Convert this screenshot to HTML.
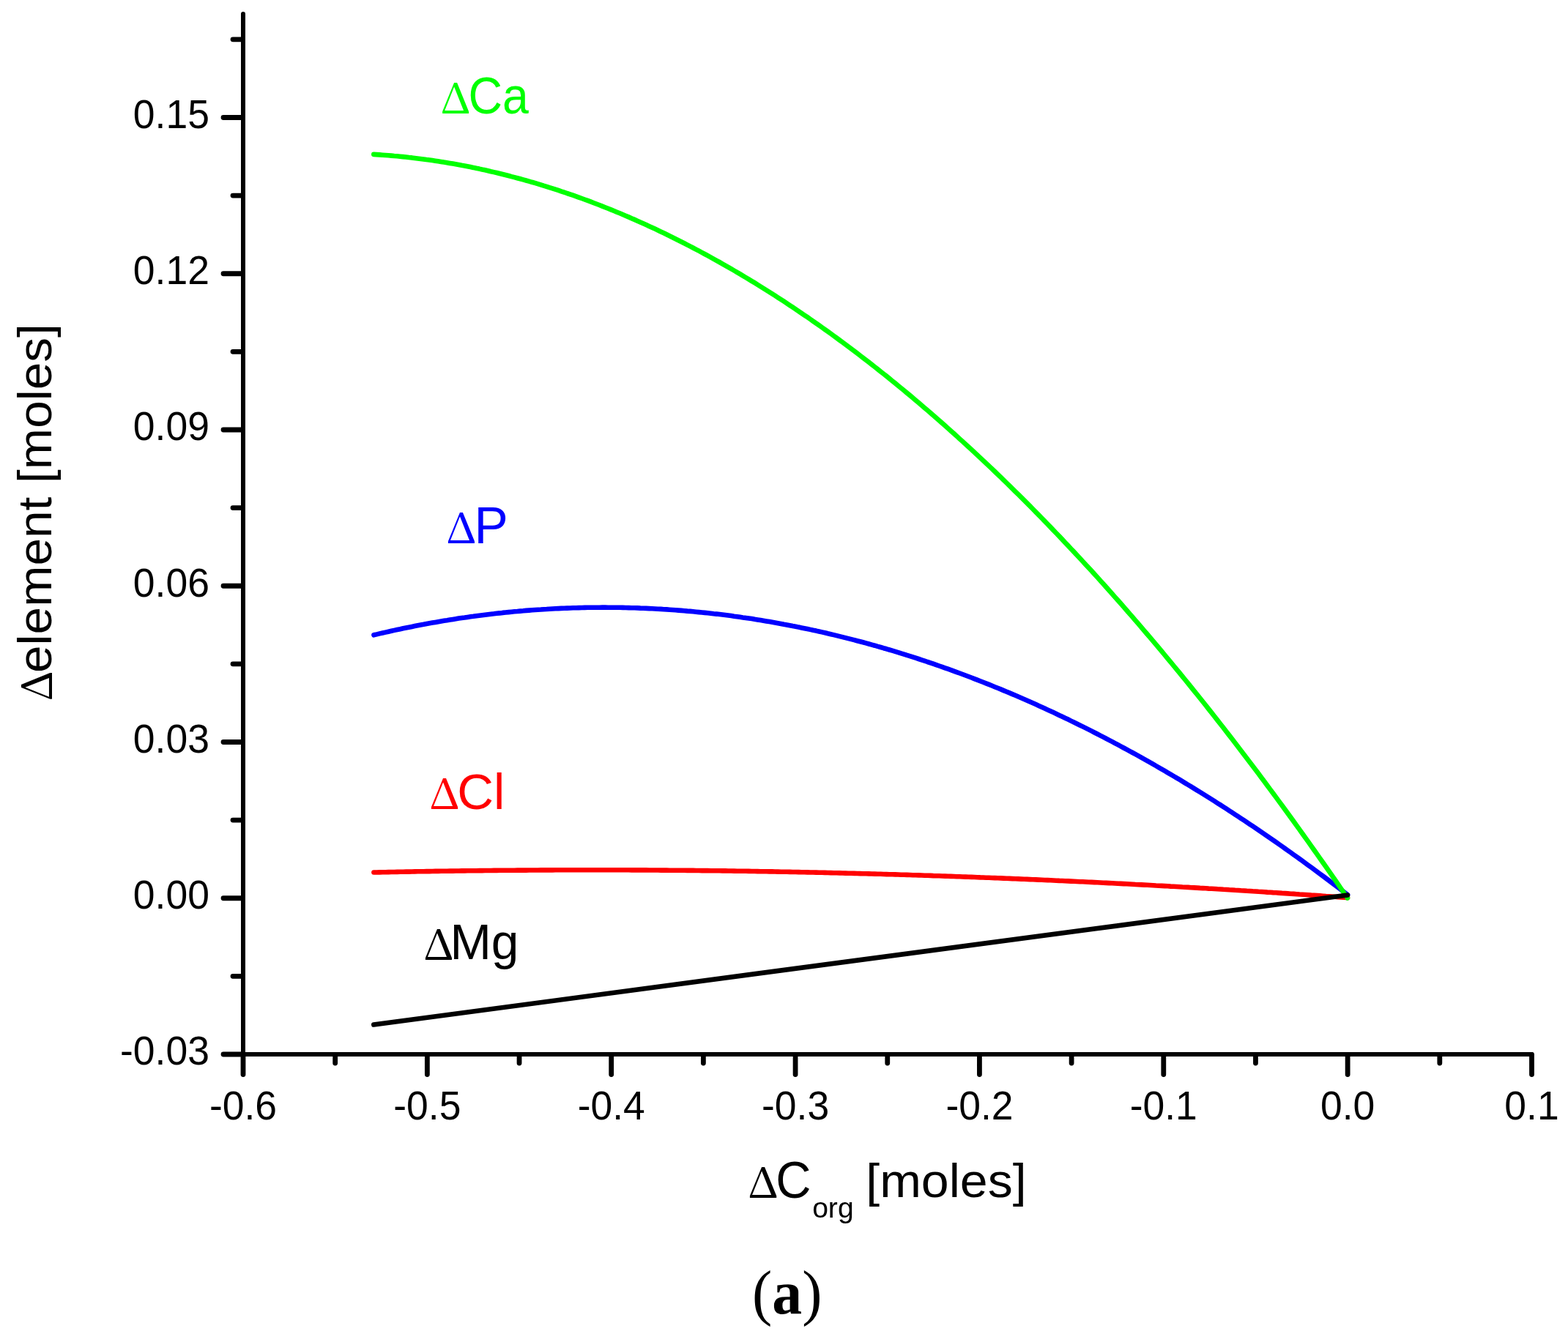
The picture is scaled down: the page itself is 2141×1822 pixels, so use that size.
<!DOCTYPE html>
<html><head><meta charset="utf-8"><title>Delta element vs Delta C_org</title>
<style>html,body{margin:0;padding:0;background:#fff;overflow:hidden}svg{display:block}</style>
</head><body>
<svg width="2141" height="1822" viewBox="0 0 2141 1822">
<rect width="2141" height="1822" fill="#fff"/>
<g fill="none" stroke-width="6.6" stroke-linecap="round" stroke-linejoin="round">
<path stroke="#ff0000" d="M510.4,1191.5 L514.4,1191.5 L518.4,1191.4 L522.4,1191.3 L526.4,1191.2 L530.4,1191.1 L534.4,1191.0 L538.4,1191.0 L542.4,1190.9 L546.4,1190.8 L550.4,1190.7 L554.4,1190.6 L558.4,1190.6 L562.4,1190.5 L566.4,1190.4 L570.4,1190.3 L574.4,1190.3 L578.4,1190.2 L582.4,1190.1 L586.4,1190.1 L590.4,1190.0 L594.4,1189.9 L598.4,1189.9 L602.4,1189.8 L606.4,1189.8 L610.4,1189.7 L614.4,1189.6 L618.4,1189.6 L622.4,1189.5 L626.4,1189.5 L630.4,1189.4 L634.4,1189.4 L638.4,1189.3 L642.4,1189.3 L646.4,1189.2 L650.4,1189.2 L654.4,1189.1 L658.4,1189.1 L662.4,1189.0 L666.4,1189.0 L670.4,1189.0 L674.4,1188.9 L678.4,1188.9 L682.4,1188.8 L686.4,1188.8 L690.4,1188.8 L694.4,1188.7 L698.4,1188.7 L702.4,1188.7 L706.4,1188.6 L710.4,1188.6 L714.4,1188.6 L718.4,1188.6 L722.4,1188.5 L726.4,1188.5 L730.4,1188.5 L734.4,1188.5 L738.4,1188.4 L742.4,1188.4 L746.4,1188.4 L750.4,1188.4 L754.4,1188.4 L758.4,1188.3 L762.4,1188.3 L766.4,1188.3 L770.4,1188.3 L774.4,1188.3 L778.4,1188.3 L782.4,1188.3 L786.4,1188.3 L790.4,1188.3 L794.4,1188.3 L798.4,1188.3 L802.4,1188.2 L806.4,1188.2 L810.4,1188.2 L814.4,1188.2 L818.4,1188.3 L822.4,1188.3 L826.4,1188.3 L830.4,1188.3 L834.4,1188.3 L838.4,1188.3 L842.4,1188.3 L846.4,1188.3 L850.4,1188.3 L854.4,1188.3 L858.4,1188.3 L862.4,1188.4 L866.4,1188.4 L870.4,1188.4 L874.4,1188.4 L878.4,1188.4 L882.4,1188.4 L886.4,1188.5 L890.4,1188.5 L894.4,1188.5 L898.4,1188.5 L902.4,1188.6 L906.4,1188.6 L910.4,1188.6 L914.4,1188.7 L918.4,1188.7 L922.4,1188.7 L926.4,1188.7 L930.4,1188.8 L934.4,1188.8 L938.4,1188.9 L942.4,1188.9 L946.4,1188.9 L950.4,1189.0 L954.4,1189.0 L958.4,1189.1 L962.4,1189.1 L966.4,1189.1 L970.4,1189.2 L974.4,1189.2 L978.4,1189.3 L982.4,1189.3 L986.4,1189.4 L990.4,1189.4 L994.4,1189.5 L998.4,1189.5 L1002.4,1189.6 L1006.4,1189.7 L1010.4,1189.7 L1014.4,1189.8 L1018.4,1189.8 L1022.4,1189.9 L1026.4,1190.0 L1030.4,1190.0 L1034.4,1190.1 L1038.4,1190.2 L1042.4,1190.2 L1046.4,1190.3 L1050.4,1190.4 L1054.4,1190.4 L1058.4,1190.5 L1062.4,1190.6 L1066.4,1190.7 L1070.4,1190.7 L1074.4,1190.8 L1078.4,1190.9 L1082.4,1191.0 L1086.4,1191.0 L1090.4,1191.1 L1094.4,1191.2 L1098.4,1191.3 L1102.4,1191.4 L1106.4,1191.5 L1110.4,1191.5 L1114.4,1191.6 L1118.4,1191.7 L1122.4,1191.8 L1126.4,1191.9 L1130.4,1192.0 L1134.4,1192.1 L1138.4,1192.2 L1142.4,1192.3 L1146.4,1192.4 L1150.4,1192.5 L1154.4,1192.6 L1158.4,1192.7 L1162.4,1192.8 L1166.4,1192.9 L1170.4,1193.0 L1174.4,1193.1 L1178.4,1193.2 L1182.4,1193.3 L1186.4,1193.4 L1190.4,1193.5 L1194.4,1193.6 L1198.4,1193.7 L1202.4,1193.8 L1206.4,1194.0 L1210.4,1194.1 L1214.4,1194.2 L1218.4,1194.3 L1222.4,1194.4 L1226.4,1194.5 L1230.4,1194.7 L1234.4,1194.8 L1238.4,1194.9 L1242.4,1195.0 L1246.4,1195.2 L1250.4,1195.3 L1254.4,1195.4 L1258.4,1195.5 L1262.4,1195.7 L1266.4,1195.8 L1270.4,1195.9 L1274.4,1196.1 L1278.4,1196.2 L1282.4,1196.3 L1286.4,1196.5 L1290.4,1196.6 L1294.4,1196.8 L1298.4,1196.9 L1302.4,1197.0 L1306.4,1197.2 L1310.4,1197.3 L1314.4,1197.5 L1318.4,1197.6 L1322.4,1197.8 L1326.4,1197.9 L1330.4,1198.0 L1334.4,1198.2 L1338.4,1198.4 L1342.4,1198.5 L1346.4,1198.7 L1350.4,1198.8 L1354.4,1199.0 L1358.4,1199.1 L1362.4,1199.3 L1366.4,1199.4 L1370.4,1199.6 L1374.4,1199.8 L1378.4,1199.9 L1382.4,1200.1 L1386.4,1200.3 L1390.4,1200.4 L1394.4,1200.6 L1398.4,1200.8 L1402.4,1200.9 L1406.4,1201.1 L1410.4,1201.3 L1414.4,1201.4 L1418.4,1201.6 L1422.4,1201.8 L1426.4,1202.0 L1430.4,1202.1 L1434.4,1202.3 L1438.4,1202.5 L1442.4,1202.7 L1446.4,1202.9 L1450.4,1203.0 L1454.4,1203.2 L1458.4,1203.4 L1462.4,1203.6 L1466.4,1203.8 L1470.4,1204.0 L1474.4,1204.2 L1478.4,1204.3 L1482.4,1204.5 L1486.4,1204.7 L1490.4,1204.9 L1494.4,1205.1 L1498.4,1205.3 L1502.4,1205.5 L1506.4,1205.7 L1510.4,1205.9 L1514.4,1206.1 L1518.4,1206.3 L1522.4,1206.5 L1526.4,1206.7 L1530.4,1206.9 L1534.4,1207.1 L1538.4,1207.3 L1542.4,1207.5 L1546.4,1207.7 L1550.4,1208.0 L1554.4,1208.2 L1558.4,1208.4 L1562.4,1208.6 L1566.4,1208.8 L1570.4,1209.0 L1574.4,1209.2 L1578.4,1209.5 L1582.4,1209.7 L1586.4,1209.9 L1590.4,1210.1 L1594.4,1210.3 L1598.4,1210.6 L1602.4,1210.8 L1606.4,1211.0 L1610.4,1211.2 L1614.4,1211.5 L1618.4,1211.7 L1622.4,1211.9 L1626.4,1212.2 L1630.4,1212.4 L1634.4,1212.6 L1638.4,1212.9 L1642.4,1213.1 L1646.4,1213.3 L1650.4,1213.6 L1654.4,1213.8 L1658.4,1214.0 L1662.4,1214.3 L1666.4,1214.5 L1670.4,1214.8 L1674.4,1215.0 L1678.4,1215.3 L1682.4,1215.5 L1686.4,1215.8 L1690.4,1216.0 L1694.4,1216.3 L1698.4,1216.5 L1702.4,1216.8 L1706.4,1217.0 L1710.4,1217.3 L1714.4,1217.5 L1718.4,1217.8 L1722.4,1218.0 L1726.4,1218.3 L1730.4,1218.6 L1734.4,1218.8 L1738.4,1219.1 L1742.4,1219.3 L1746.4,1219.6 L1750.4,1219.9 L1754.4,1220.1 L1758.4,1220.4 L1762.4,1220.7 L1766.4,1220.9 L1770.4,1221.2 L1774.4,1221.5 L1778.4,1221.7 L1782.4,1222.0 L1786.4,1222.3 L1790.4,1222.6 L1794.4,1222.8 L1798.4,1223.1 L1802.4,1223.4 L1806.4,1223.7 L1810.4,1224.0 L1814.4,1224.2 L1818.4,1224.5 L1822.4,1224.8 L1826.4,1225.1 L1830.4,1225.4 L1834.4,1225.7 L1838.4,1226.0 L1840.0,1226.1"/>
<path stroke="#0000ff" d="M510.4,867.3 L514.4,866.4 L518.4,865.4 L522.4,864.5 L526.4,863.6 L530.4,862.7 L534.4,861.8 L538.4,860.9 L542.4,860.0 L546.4,859.2 L550.4,858.3 L554.4,857.5 L558.4,856.7 L562.4,855.9 L566.4,855.1 L570.4,854.3 L574.4,853.5 L578.4,852.8 L582.4,852.0 L586.4,851.3 L590.4,850.6 L594.4,849.9 L598.4,849.2 L602.4,848.5 L606.4,847.8 L610.4,847.2 L614.4,846.5 L618.4,845.9 L622.4,845.3 L626.4,844.6 L630.4,844.0 L634.4,843.5 L638.4,842.9 L642.4,842.3 L646.4,841.8 L650.4,841.2 L654.4,840.7 L658.4,840.2 L662.4,839.7 L666.4,839.2 L670.4,838.7 L674.4,838.3 L678.4,837.8 L682.4,837.4 L686.4,836.9 L690.4,836.5 L694.4,836.1 L698.4,835.7 L702.4,835.3 L706.4,835.0 L710.4,834.6 L714.4,834.3 L718.4,833.9 L722.4,833.6 L726.4,833.3 L730.4,833.0 L734.4,832.7 L738.4,832.5 L742.4,832.2 L746.4,832.0 L750.4,831.7 L754.4,831.5 L758.4,831.3 L762.4,831.1 L766.4,830.9 L770.4,830.8 L774.4,830.6 L778.4,830.5 L782.4,830.3 L786.4,830.2 L790.4,830.1 L794.4,830.0 L798.4,829.9 L802.4,829.8 L806.4,829.8 L810.4,829.7 L814.4,829.7 L818.4,829.7 L822.4,829.6 L826.4,829.6 L830.4,829.7 L834.4,829.7 L838.4,829.7 L842.4,829.8 L846.4,829.8 L850.4,829.9 L854.4,830.0 L858.4,830.1 L862.4,830.2 L866.4,830.3 L870.4,830.4 L874.4,830.6 L878.4,830.7 L882.4,830.9 L886.4,831.1 L890.4,831.3 L894.4,831.5 L898.4,831.7 L902.4,831.9 L906.4,832.2 L910.4,832.4 L914.4,832.7 L918.4,833.0 L922.4,833.3 L926.4,833.6 L930.4,833.9 L934.4,834.2 L938.4,834.6 L942.4,834.9 L946.4,835.3 L950.4,835.7 L954.4,836.1 L958.4,836.5 L962.4,836.9 L966.4,837.3 L970.4,837.7 L974.4,838.2 L978.4,838.6 L982.4,839.1 L986.4,839.6 L990.4,840.1 L994.4,840.6 L998.4,841.1 L1002.4,841.7 L1006.4,842.2 L1010.4,842.8 L1014.4,843.4 L1018.4,843.9 L1022.4,844.5 L1026.4,845.1 L1030.4,845.8 L1034.4,846.4 L1038.4,847.0 L1042.4,847.7 L1046.4,848.4 L1050.4,849.1 L1054.4,849.8 L1058.4,850.5 L1062.4,851.2 L1066.4,851.9 L1070.4,852.7 L1074.4,853.4 L1078.4,854.2 L1082.4,855.0 L1086.4,855.7 L1090.4,856.6 L1094.4,857.4 L1098.4,858.2 L1102.4,859.0 L1106.4,859.9 L1110.4,860.8 L1114.4,861.6 L1118.4,862.5 L1122.4,863.4 L1126.4,864.3 L1130.4,865.3 L1134.4,866.2 L1138.4,867.1 L1142.4,868.1 L1146.4,869.1 L1150.4,870.1 L1154.4,871.1 L1158.4,872.1 L1162.4,873.1 L1166.4,874.1 L1170.4,875.2 L1174.4,876.2 L1178.4,877.3 L1182.4,878.4 L1186.4,879.5 L1190.4,880.6 L1194.4,881.7 L1198.4,882.9 L1202.4,884.0 L1206.4,885.2 L1210.4,886.3 L1214.4,887.5 L1218.4,888.7 L1222.4,889.9 L1226.4,891.1 L1230.4,892.4 L1234.4,893.6 L1238.4,894.9 L1242.4,896.1 L1246.4,897.4 L1250.4,898.7 L1254.4,900.0 L1258.4,901.3 L1262.4,902.6 L1266.4,904.0 L1270.4,905.3 L1274.4,906.7 L1278.4,908.1 L1282.4,909.5 L1286.4,910.9 L1290.4,912.3 L1294.4,913.7 L1298.4,915.1 L1302.4,916.6 L1306.4,918.1 L1310.4,919.5 L1314.4,921.0 L1318.4,922.5 L1322.4,924.0 L1326.4,925.5 L1330.4,927.1 L1334.4,928.6 L1338.4,930.2 L1342.4,931.8 L1346.4,933.3 L1350.4,934.9 L1354.4,936.5 L1358.4,938.2 L1362.4,939.8 L1366.4,941.4 L1370.4,943.1 L1374.4,944.8 L1378.4,946.4 L1382.4,948.1 L1386.4,949.8 L1390.4,951.6 L1394.4,953.3 L1398.4,955.0 L1402.4,956.8 L1406.4,958.6 L1410.4,960.3 L1414.4,962.1 L1418.4,963.9 L1422.4,965.7 L1426.4,967.6 L1430.4,969.4 L1434.4,971.3 L1438.4,973.1 L1442.4,975.0 L1446.4,976.9 L1450.4,978.8 L1454.4,980.7 L1458.4,982.6 L1462.4,984.6 L1466.4,986.5 L1470.4,988.5 L1474.4,990.4 L1478.4,992.4 L1482.4,994.4 L1486.4,996.4 L1490.4,998.4 L1494.4,1000.5 L1498.4,1002.5 L1502.4,1004.6 L1506.4,1006.7 L1510.4,1008.7 L1514.4,1010.8 L1518.4,1012.9 L1522.4,1015.1 L1526.4,1017.2 L1530.4,1019.3 L1534.4,1021.5 L1538.4,1023.7 L1542.4,1025.8 L1546.4,1028.0 L1550.4,1030.2 L1554.4,1032.4 L1558.4,1034.7 L1562.4,1036.9 L1566.4,1039.2 L1570.4,1041.4 L1574.4,1043.7 L1578.4,1046.0 L1582.4,1048.3 L1586.4,1050.6 L1590.4,1052.9 L1594.4,1055.3 L1598.4,1057.6 L1602.4,1060.0 L1606.4,1062.4 L1610.4,1064.7 L1614.4,1067.1 L1618.4,1069.6 L1622.4,1072.0 L1626.4,1074.4 L1630.4,1076.9 L1634.4,1079.3 L1638.4,1081.8 L1642.4,1084.3 L1646.4,1086.8 L1650.4,1089.3 L1654.4,1091.8 L1658.4,1094.3 L1662.4,1096.9 L1666.4,1099.4 L1670.4,1102.0 L1674.4,1104.6 L1678.4,1107.2 L1682.4,1109.8 L1686.4,1112.4 L1690.4,1115.0 L1694.4,1117.7 L1698.4,1120.3 L1702.4,1123.0 L1706.4,1125.7 L1710.4,1128.3 L1714.4,1131.0 L1718.4,1133.8 L1722.4,1136.5 L1726.4,1139.2 L1730.4,1142.0 L1734.4,1144.7 L1738.4,1147.5 L1742.4,1150.3 L1746.4,1153.1 L1750.4,1155.9 L1754.4,1158.7 L1758.4,1161.6 L1762.4,1164.4 L1766.4,1167.3 L1770.4,1170.2 L1774.4,1173.0 L1778.4,1175.9 L1782.4,1178.8 L1786.4,1181.8 L1790.4,1184.7 L1794.4,1187.6 L1798.4,1190.6 L1802.4,1193.6 L1806.4,1196.5 L1810.4,1199.5 L1814.4,1202.5 L1818.4,1205.6 L1822.4,1208.6 L1826.4,1211.6 L1830.4,1214.7 L1834.4,1217.8 L1838.4,1220.8 L1840.0,1222.1"/>
<path stroke="#00ff00" d="M510.3,210.9 L514.3,211.1 L518.3,211.4 L522.3,211.7 L526.3,212.0 L530.3,212.3 L534.3,212.6 L538.3,213.0 L542.3,213.3 L546.3,213.7 L550.3,214.1 L554.3,214.5 L558.3,215.0 L562.3,215.4 L566.3,215.9 L570.3,216.4 L574.3,216.9 L578.3,217.4 L582.3,218.0 L586.3,218.5 L590.3,219.1 L594.3,219.7 L598.3,220.3 L602.3,220.9 L606.3,221.6 L610.3,222.2 L614.3,222.9 L618.3,223.6 L622.3,224.3 L626.3,225.0 L630.3,225.8 L634.3,226.5 L638.3,227.3 L642.3,228.1 L646.3,228.9 L650.3,229.8 L654.3,230.6 L658.3,231.5 L662.3,232.3 L666.3,233.2 L670.3,234.2 L674.3,235.1 L678.3,236.0 L682.3,237.0 L686.3,238.0 L690.3,239.0 L694.3,240.0 L698.3,241.1 L702.3,242.1 L706.3,243.2 L710.3,244.3 L714.3,245.4 L718.3,246.5 L722.3,247.6 L726.3,248.8 L730.3,249.9 L734.3,251.1 L738.3,252.3 L742.3,253.6 L746.3,254.8 L750.3,256.1 L754.3,257.3 L758.3,258.6 L762.3,259.9 L766.3,261.3 L770.3,262.6 L774.3,264.0 L778.3,265.3 L782.3,266.7 L786.3,268.1 L790.3,269.6 L794.3,271.0 L798.3,272.5 L802.3,273.9 L806.3,275.4 L810.3,277.0 L814.3,278.5 L818.3,280.0 L822.3,281.6 L826.3,283.2 L830.3,284.8 L834.3,286.4 L838.3,288.0 L842.3,289.7 L846.3,291.3 L850.3,293.0 L854.3,294.7 L858.3,296.4 L862.3,298.2 L866.3,299.9 L870.3,301.7 L874.3,303.5 L878.3,305.3 L882.3,307.1 L886.3,308.9 L890.3,310.8 L894.3,312.6 L898.3,314.5 L902.3,316.4 L906.3,318.3 L910.3,320.3 L914.3,322.2 L918.3,324.2 L922.3,326.2 L926.3,328.2 L930.3,330.2 L934.3,332.2 L938.3,334.3 L942.3,336.4 L946.3,338.5 L950.3,340.6 L954.3,342.7 L958.3,344.8 L962.3,347.0 L966.3,349.2 L970.3,351.4 L974.3,353.6 L978.3,355.8 L982.3,358.0 L986.3,360.3 L990.3,362.6 L994.3,364.9 L998.3,367.2 L1002.3,369.5 L1006.3,371.8 L1010.3,374.2 L1014.3,376.6 L1018.3,379.0 L1022.3,381.4 L1026.3,383.8 L1030.3,386.2 L1034.3,388.7 L1038.3,391.2 L1042.3,393.7 L1046.3,396.2 L1050.3,398.7 L1054.3,401.3 L1058.3,403.8 L1062.3,406.4 L1066.3,409.0 L1070.3,411.6 L1074.3,414.2 L1078.3,416.9 L1082.3,419.6 L1086.3,422.2 L1090.3,424.9 L1094.3,427.7 L1098.3,430.4 L1102.3,433.1 L1106.3,435.9 L1110.3,438.7 L1114.3,441.5 L1118.3,444.3 L1122.3,447.1 L1126.3,450.0 L1130.3,452.8 L1134.3,455.7 L1138.3,458.6 L1142.3,461.5 L1146.3,464.5 L1150.3,467.4 L1154.3,470.4 L1158.3,473.4 L1162.3,476.4 L1166.3,479.4 L1170.3,482.4 L1174.3,485.5 L1178.3,488.6 L1182.3,491.6 L1186.3,494.7 L1190.3,497.9 L1194.3,501.0 L1198.3,504.2 L1202.3,507.3 L1206.3,510.5 L1210.3,513.7 L1214.3,516.9 L1218.3,520.2 L1222.3,523.4 L1226.3,526.7 L1230.3,530.0 L1234.3,533.3 L1238.3,536.6 L1242.3,539.9 L1246.3,543.3 L1250.3,546.7 L1254.3,550.1 L1258.3,553.5 L1262.3,556.9 L1266.3,560.3 L1270.3,563.8 L1274.3,567.3 L1278.3,570.7 L1282.3,574.2 L1286.3,577.8 L1290.3,581.3 L1294.3,584.9 L1298.3,588.4 L1302.3,592.0 L1306.3,595.6 L1310.3,599.3 L1314.3,602.9 L1318.3,606.6 L1322.3,610.2 L1326.3,613.9 L1330.3,617.6 L1334.3,621.4 L1338.3,625.1 L1342.3,628.8 L1346.3,632.6 L1350.3,636.4 L1354.3,640.2 L1358.3,644.0 L1362.3,647.9 L1366.3,651.7 L1370.3,655.6 L1374.3,659.5 L1378.3,663.4 L1382.3,667.3 L1386.3,671.3 L1390.3,675.2 L1394.3,679.2 L1398.3,683.2 L1402.3,687.2 L1406.3,691.2 L1410.3,695.3 L1414.3,699.3 L1418.3,703.4 L1422.3,707.5 L1426.3,711.6 L1430.3,715.7 L1434.3,719.9 L1438.3,724.1 L1442.3,728.2 L1446.3,732.4 L1450.3,736.6 L1454.3,740.9 L1458.3,745.1 L1462.3,749.4 L1466.3,753.6 L1470.3,757.9 L1474.3,762.2 L1478.3,766.6 L1482.3,770.9 L1486.3,775.3 L1490.3,779.6 L1494.3,784.0 L1498.3,788.4 L1502.3,792.9 L1506.3,797.3 L1510.3,801.8 L1514.3,806.3 L1518.3,810.7 L1522.3,815.3 L1526.3,819.8 L1530.3,824.3 L1534.3,828.9 L1538.3,833.5 L1542.3,838.1 L1546.3,842.7 L1550.3,847.3 L1554.3,851.9 L1558.3,856.6 L1562.3,861.3 L1566.3,866.0 L1570.3,870.7 L1574.3,875.4 L1578.3,880.1 L1582.3,884.9 L1586.3,889.7 L1590.3,894.5 L1594.3,899.3 L1598.3,904.1 L1602.3,909.0 L1606.3,913.8 L1610.3,918.7 L1614.3,923.6 L1618.3,928.5 L1622.3,933.4 L1626.3,938.4 L1630.3,943.3 L1634.3,948.3 L1638.3,953.3 L1642.3,958.3 L1646.3,963.3 L1650.3,968.4 L1654.3,973.4 L1658.3,978.5 L1662.3,983.6 L1666.3,988.7 L1670.3,993.8 L1674.3,999.0 L1678.3,1004.1 L1682.3,1009.3 L1686.3,1014.5 L1690.3,1019.7 L1694.3,1024.9 L1698.3,1030.2 L1702.3,1035.4 L1706.3,1040.7 L1710.3,1046.0 L1714.3,1051.3 L1718.3,1056.6 L1722.3,1062.0 L1726.3,1067.3 L1730.3,1072.7 L1734.3,1078.1 L1738.3,1083.5 L1742.3,1088.9 L1746.3,1094.4 L1750.3,1099.8 L1754.3,1105.3 L1758.3,1110.8 L1762.3,1116.3 L1766.3,1121.8 L1770.3,1127.4 L1774.3,1132.9 L1778.3,1138.5 L1782.3,1144.1 L1786.3,1149.7 L1790.3,1155.3 L1794.3,1161.0 L1798.3,1166.6 L1802.3,1172.3 L1806.3,1178.0 L1810.3,1183.7 L1814.3,1189.4 L1818.3,1195.1 L1822.3,1200.9 L1826.3,1206.7 L1830.3,1212.5 L1834.3,1218.3 L1838.3,1224.1 L1840.0,1226.6"/>
<path stroke="#000000" d="M510.3,1399.5 L1840,1222.5"/>
</g>
<path fill="none" stroke="#000" stroke-width="6" stroke-linecap="round" d="M332.0,19.0 L332.0,1440.0 M332.0,1440.0 L2091.5,1440.0"/>
<path fill="none" stroke="#000" stroke-width="6.8" stroke-linecap="round" d="M305,160.50 L331.5,160.50 M318,53.87 L331.5,53.87 M305,373.75 L331.5,373.75 M318,267.12 L331.5,267.12 M305,587.00 L331.5,587.00 M318,480.37 L331.5,480.37 M305,800.25 L331.5,800.25 M318,693.62 L331.5,693.62 M305,1013.50 L331.5,1013.50 M318,906.87 L331.5,906.87 M305,1226.75 L331.5,1226.75 M318,1120.12 L331.5,1120.12 M305,1440.00 L331.5,1440.00 M318,1333.37 L331.5,1333.37 M332.00,1440.5 L332.00,1467.5 M583.36,1440.5 L583.36,1467.5 M834.71,1440.5 L834.71,1467.5 M1086.07,1440.5 L1086.07,1467.5 M1337.43,1440.5 L1337.43,1467.5 M1588.79,1440.5 L1588.79,1467.5 M1840.14,1440.5 L1840.14,1467.5 M2091.50,1440.5 L2091.50,1467.5 M457.68,1440.5 L457.68,1452 M709.04,1440.5 L709.04,1452 M960.39,1440.5 L960.39,1452 M1211.75,1440.5 L1211.75,1452 M1463.11,1440.5 L1463.11,1452 M1714.46,1440.5 L1714.46,1452 M1965.82,1440.5 L1965.82,1452"/>
<g font-family="'Liberation Sans', Arial, sans-serif" font-size="54" fill="#000">
<text transform="translate(285.89,174.90) scale(0.9901,1.0450)" text-anchor="end">0.15</text>
<text transform="translate(285.89,388.15) scale(0.9901,1.0450)" text-anchor="end">0.12</text>
<text transform="translate(285.89,601.40) scale(0.9901,1.0450)" text-anchor="end">0.09</text>
<text transform="translate(285.89,814.65) scale(0.9901,1.0450)" text-anchor="end">0.06</text>
<text transform="translate(285.89,1027.90) scale(0.9901,1.0450)" text-anchor="end">0.03</text>
<text transform="translate(285.89,1241.15) scale(0.9901,1.0450)" text-anchor="end">0.00</text>
<text transform="translate(285.89,1454.40) scale(0.9901,1.0450)" text-anchor="end">-0.03</text>
<text transform="translate(332.00,1529) scale(0.9901,1.0450)" text-anchor="middle">-0.6</text>
<text transform="translate(583.36,1529) scale(0.9901,1.0450)" text-anchor="middle">-0.5</text>
<text transform="translate(834.71,1529) scale(0.9901,1.0450)" text-anchor="middle">-0.4</text>
<text transform="translate(1086.07,1529) scale(0.9901,1.0450)" text-anchor="middle">-0.3</text>
<text transform="translate(1337.43,1529) scale(0.9901,1.0450)" text-anchor="middle">-0.2</text>
<text transform="translate(1588.79,1529) scale(0.9901,1.0450)" text-anchor="middle">-0.1</text>
<text transform="translate(1840.14,1529) scale(0.9901,1.0450)" text-anchor="middle">0.0</text>
<text transform="translate(2091.50,1529) scale(0.9901,1.0450)" text-anchor="middle">0.1</text>
</g>
<text fill="#00ff00"><tspan x="601.20" y="155.00" font-family="'Noto Serif CJK SC', 'Liberation Serif', serif" font-size="56.86" font-weight="500" textLength="41.74" lengthAdjust="spacingAndGlyphs">Δ</tspan><tspan x="639.58" y="155.12" font-family="'Liberation Sans', Arial, sans-serif" font-size="70.61" font-weight="normal" textLength="82.36" lengthAdjust="spacingAndGlyphs">Ca</tspan></text>
<text fill="#0000ff"><tspan x="608.99" y="741.90" font-family="'Noto Serif CJK SC', 'Liberation Serif', serif" font-size="56.73" font-weight="500" textLength="41.97" lengthAdjust="spacingAndGlyphs">Δ</tspan><tspan x="647.39" y="741.80" font-family="'Liberation Sans', Arial, sans-serif" font-size="69.67" font-weight="normal" textLength="46.30" lengthAdjust="spacingAndGlyphs">P</tspan></text>
<text fill="#ff0000"><tspan x="585.98" y="1104.80" font-family="'Noto Serif CJK SC', 'Liberation Serif', serif" font-size="56.86" font-weight="500" textLength="42.09" lengthAdjust="spacingAndGlyphs">Δ</tspan><tspan x="624.35" y="1104.95" font-family="'Liberation Sans', Arial, sans-serif" font-size="67.73" font-weight="normal" textLength="65.08" lengthAdjust="spacingAndGlyphs">Cl</tspan></text>
<text fill="#000000"><tspan x="578.09" y="1311.00" font-family="'Noto Serif CJK SC', 'Liberation Serif', serif" font-size="57.13" font-weight="500" textLength="41.97" lengthAdjust="spacingAndGlyphs">Δ</tspan><tspan x="614.43" y="1310.49" font-family="'Liberation Sans', Arial, sans-serif" font-size="69.23" font-weight="normal" textLength="94.02" lengthAdjust="spacingAndGlyphs">Mg</tspan></text>
<text fill="#000"><tspan x="1020.97" y="1636.00" font-family="'Noto Serif CJK SC', 'Liberation Serif', serif" font-size="56.86" font-weight="500" textLength="42.21" lengthAdjust="spacingAndGlyphs">Δ</tspan><tspan x="1059.37" y="1636.12" font-family="'Liberation Sans', Arial, sans-serif" font-size="70.33" font-weight="normal" textLength="48.20" lengthAdjust="spacingAndGlyphs">C</tspan><tspan x="1109.15" y="1662.73" font-family="'Liberation Sans', Arial, sans-serif" font-size="38.87" font-weight="normal" textLength="56.48" lengthAdjust="spacingAndGlyphs">org</tspan><tspan> </tspan><tspan x="1182.25" y="1635.21" font-family="'Liberation Sans', Arial, sans-serif" font-size="65.32" font-weight="normal" textLength="219.40" lengthAdjust="spacingAndGlyphs">[moles]</tspan></text>
<g transform="translate(71,916) rotate(-90)"><text fill="#000"><tspan x="-41.70" y="0.00" font-family="'Noto Serif CJK SC', 'Liberation Serif', serif" font-size="57.00" font-weight="500" textLength="41.74" lengthAdjust="spacingAndGlyphs">Δ</tspan><tspan x="-2.98" y="-0.69" font-family="'Liberation Sans', Arial, sans-serif" font-size="65.32" font-weight="normal" textLength="476.78" lengthAdjust="spacingAndGlyphs">element [moles]</tspan></text></g>
<text transform="translate(1027.10,1793.78) scale(0.9855,1.0240)" font-family="'Liberation Serif', 'Times New Roman', serif" font-size="83" font-weight="normal" fill="#000000">(<tspan font-weight="bold">a</tspan>)</text>
</svg>
</body></html>
